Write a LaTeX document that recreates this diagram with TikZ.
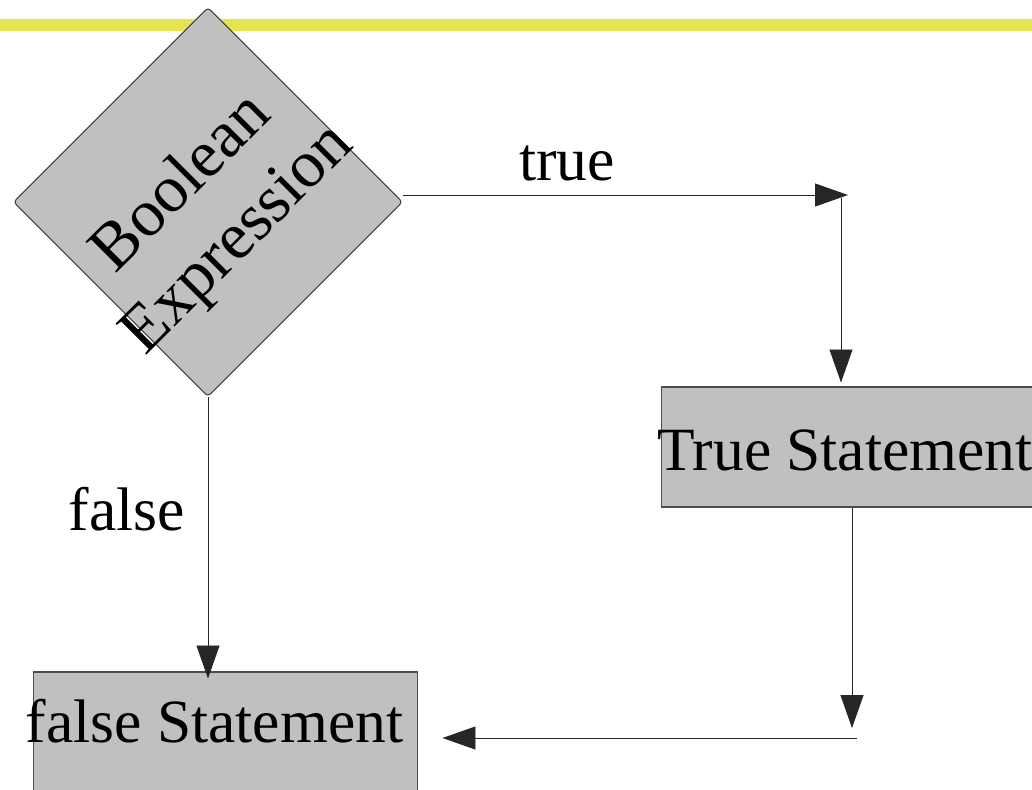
\documentclass[tikz,border=0pt]{standalone}
\usepackage{fontspec}
\setmainfont{Liberation Serif}
\usetikzlibrary{arrows.meta,positioning,calc}
\definecolor{boxgray}{RGB}{192,192,192}
\definecolor{baryel}{RGB}{230,228,80}
\newcommand{\stmttext}[1]{\makebox[0pt]{#1\hspace*{0.44cm}}}
\tikzset{
  flow/.style ={draw=black!85,line width=0.5pt,-{Triangle[length=0.66cm,width=0.46cm]}},
  stmt/.style ={draw=black!70,fill=boxgray,line width=0.6pt,minimum width=7.8cm,
                minimum height=2.4cm,inner sep=0pt,text height=0.96cm,
                font=\fontsize{35}{42}\selectfont},
  cond/.style ={draw=black!75,fill=boxgray,line width=0.6pt,rotate=45,
                minimum size=5.5cm,rounded corners=2pt,inner sep=0pt},
  lbl/.style  ={anchor=base,font=\fontsize{35}{42}\selectfont},
}
\begin{document}
\begin{tikzpicture}[x=0.02cm,y=-0.02cm]
  \useasboundingbox (0,0) rectangle (1032,789);
  \clip (0,0) rectangle (1032,789);
  \fill[baryel] (0,19) rectangle (1032,31);
  \node[cond] (c) at (208,202) {};
  \node[rotate=45,align=center,font=\fontsize{38}{45}\selectfont] (ct) at (211,212) {Boolean\\Expression};
  \node[stmt] (t) at (856,447) {\stmttext{True Statement}};
  \node[stmt,minimum width=7.7cm,text depth=0.56cm] (f) at (225.5,732) {\stmttext{false Statement}};
  \node[lbl] (lt) at (567,180) {true};
  \node[lbl] (lf) at (127,530) {false};
  \coordinate (tc) at (848,195);
  \coordinate (td) at (841,198);
  \coordinate (bd) at (852,728);
  \coordinate (bt) at (857,738);
  \draw[flow] (c.south east |- tc) -- (tc);
  \draw[flow,shorten >=0.08cm] (td) -- (td |- t.north);
  \draw[flow] (t.south -| bd) -- (bd);
  \draw[flow,shorten >=0.48cm] (bt) -- (bt -| f.east);
  \draw[flow,shorten >=-0.14cm] (c.south west) -- (c.south west |- f.north);
\end{tikzpicture}
\end{document}
